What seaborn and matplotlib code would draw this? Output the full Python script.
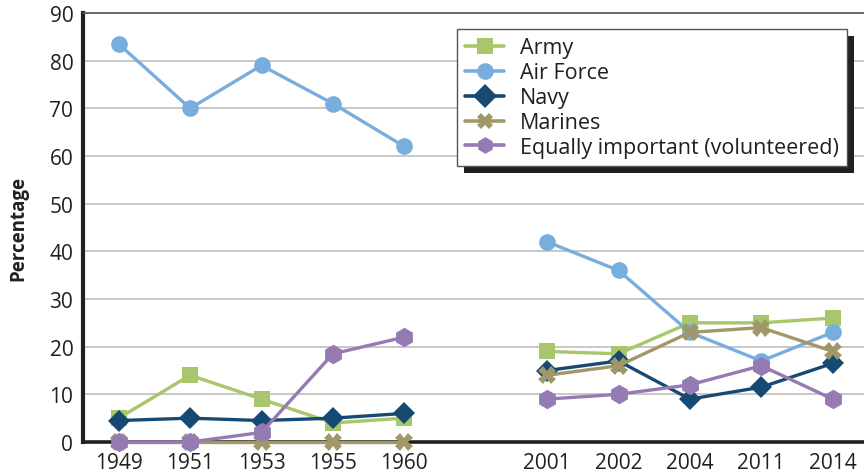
import numpy as np
import pandas as pd
import matplotlib
matplotlib.use("Agg")
import matplotlib.pyplot as plt
from matplotlib.patches import Rectangle
import seaborn as sns

# survey years (a blank slot sits between 1960 and 2001)
years = ["1949", "1951", "1953", "1955", "1960", "", "2001", "2002", "2004", "2011", "2014"]
early_years = ["1949", "1951", "1953", "1955", "1960"]
late_years = ["2001", "2002", "2004", "2011", "2014"]

series = ["Army", "Air Force", "Navy", "Marines", "Equally important (volunteered)"]

army_early = [5, 14, 9, 4, 5]
army_late = [19, 18.5, 25, 25, 26]
airforce_early = [83.5, 70, 79, 71, 62]
airforce_late = [42, 36, 23, 17, 23]
navy_early = [4.5, 5, 4.5, 5, 6]
navy_late = [15, 17, 9, 11.5, 16.5]
marines_early = [0, 0, 0, 0, 0]
marines_late = [14, 16, 23, 24, 19]
equal_early = [0, 0, 2, 18.5, 22]
equal_late = [9, 10, 12, 16, 9]

colors = ["#a8c66c", "#78aede", "#174a72", "#a09868", "#957ab4"]
markers = ["s", "o", "D", "X", "h"]

early = [army_early, airforce_early, navy_early, marines_early, equal_early]
late = [army_late, airforce_late, navy_late, marines_late, equal_late]

rows = []
for name, e_vals, l_vals in zip(series, early, late):
    for yr, v in zip(early_years, e_vals):
        rows.append({"series": name, "pos": years.index(yr), "value": v, "period": "early"})
    for yr, v in zip(late_years, l_vals):
        rows.append({"series": name, "pos": years.index(yr), "value": v, "period": "late"})
df = pd.DataFrame(rows)

sns.set_style("white")
plt.rcParams["font.family"] = ["Open Sans", "DejaVu Sans"]

fig = plt.figure(figsize=(8.64, 4.77), dpi=100)
ax = fig.add_axes([83 / 864, 34 / 477, 781 / 864, 429 / 477])

sns.lineplot(data=df, x="pos", y="value", hue="series", style="series",
             units="period", estimator=None, hue_order=series, style_order=series,
             palette=dict(zip(series, colors)), markers=dict(zip(series, markers)),
             dashes=False, linewidth=2.4, markersize=12, markeredgewidth=0,
             ax=ax, legend=True, zorder=3, clip_on=False)

# tune a few marker shapes to look like the original
sizes = {"D": 11, "h": 14, "X": 12.5, "s": 11.5, "o": 12}
for line in ax.get_lines():
    m = line.get_marker()
    if m in sizes:
        line.set_markersize(sizes[m])

ax.set_xlim(-0.5, -0.5 + 781 / 71.4)
ax.set_ylim(0, 90)
ax.set_yticks(range(0, 91, 10))
ax.set_xticks(range(len(years)))
ax.set_xticklabels(years)
ax.set_xticks(np.arange(0.5, 10, 1), minor=True)
ax.tick_params(axis="x", which="major", length=0, pad=7, labelsize=15, colors="#231f20")
ax.tick_params(axis="x", which="minor", length=7, width=1, direction="in", color="#231f20")
ax.tick_params(axis="y", length=0, pad=7, labelsize=15, colors="#231f20")
ax.set_xlabel("")
ax.set_ylabel("Percentage", fontsize=13.5, fontweight="bold", color="#231f20", labelpad=15)

ax.yaxis.grid(True, color="#c4c4c4", linewidth=1.3)
ax.set_axisbelow(True)
for side in ["left", "bottom"]:
    ax.spines[side].set_color("#231f20")
ax.spines["left"].set_linewidth(3)
ax.spines["bottom"].set_linewidth(2.6)
ax.spines["top"].set_color("#555555")
ax.spines["top"].set_linewidth(1.2)
ax.spines["right"].set_visible(False)

handles, labels = ax.get_legend_handles_labels()
for h in handles:
    h.set_linewidth(2.6)
    h.set_markersize(12)
    h.set_clip_on(True)
leg = ax.legend(handles, labels, loc="upper left", bbox_to_anchor=(0.479, 0.962),
                borderaxespad=0, frameon=True, fancybox=False, fontsize=15.5,
                handlelength=1.8, handletextpad=0.75, labelspacing=0.18,
                borderpad=0.38, framealpha=1)
leg.get_frame().set_edgecolor("#555555")
leg.get_frame().set_linewidth(1.0)
for t in leg.get_texts():
    t.set_color("#231f20")

# hard black drop shadow behind the legend box
fig.canvas.draw()
bb = leg.get_frame().get_window_extent()
shadow = Rectangle((bb.x0 + 7, bb.y0 - 7), bb.width, bb.height, transform=None,
                   facecolor="#231f20", edgecolor="none", zorder=9)
fig.add_artist(shadow)
leg.remove()
fig.add_artist(leg)
leg.set_zorder(10)

fig.savefig("out.png", dpi=100)
